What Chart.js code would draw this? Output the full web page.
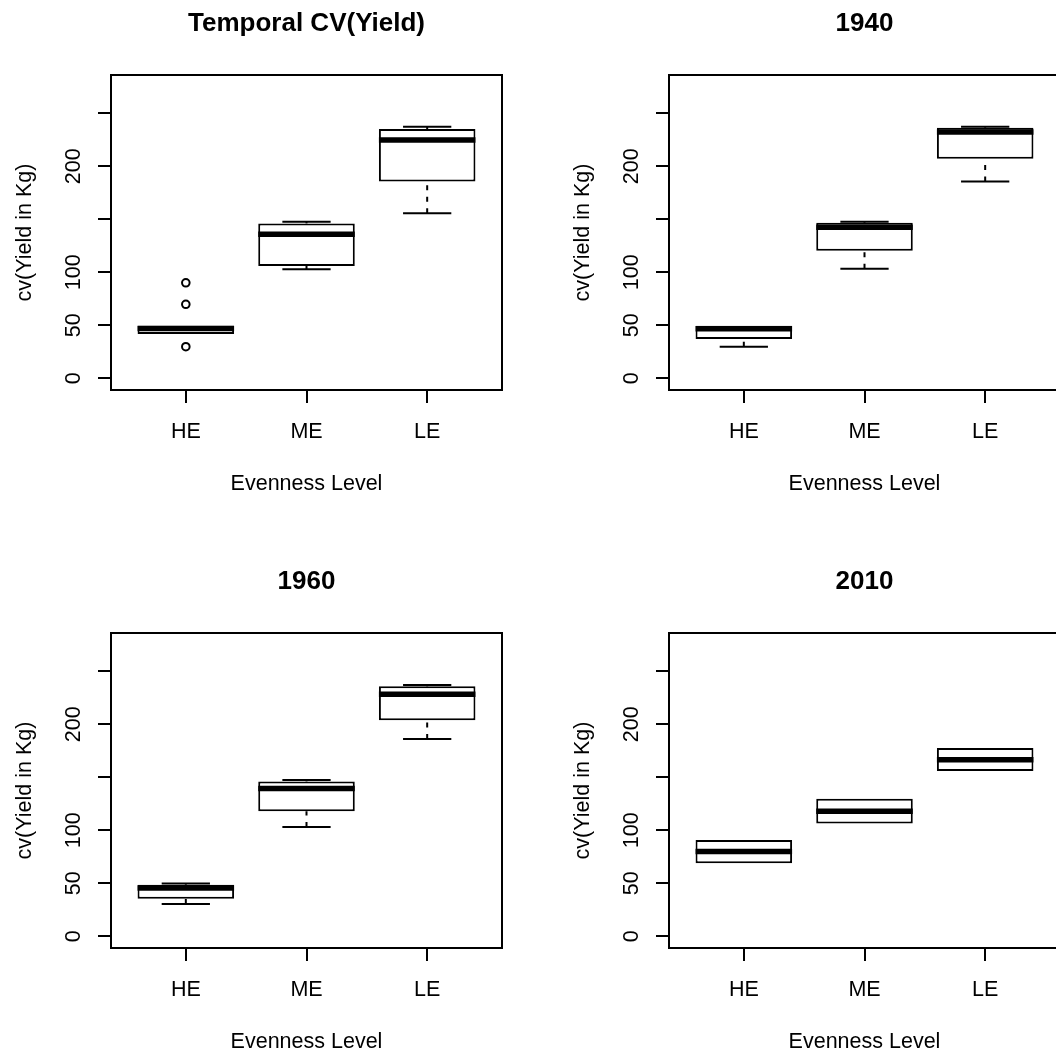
<!DOCTYPE html>
<html>
<head>
<meta charset="utf-8">
<script src="https://cdn.jsdelivr.net/npm/chart.js@4.4.1/dist/chart.umd.min.js"></script>
<style>
  html, body { margin: 0; padding: 0; background: #fff; }
  #wrap { position: relative; width: 1056px; height: 1056px; overflow: hidden; background: #fff; }
  #wrap canvas { position: absolute; }
</style>
</head>
<body>
<div id="wrap">
  <canvas id="c0" width="558" height="558" style="left:0px;top:0px"></canvas>
  <canvas id="c1" width="558" height="558" style="left:558px;top:0px"></canvas>
  <canvas id="c2" width="558" height="558" style="left:0px;top:558px"></canvas>
  <canvas id="c3" width="558" height="558" style="left:558px;top:558px"></canvas>
</div>
<script>
// ---------- data ----------
const categories = ['HE', 'ME', 'LE'];
const yTicks = [0, 50, 100, 150, 200, 250];
const yTickLabels = ['0', '50', '100', '', '200', ''];
const xLabel = 'Evenness Level';
const yLabel = 'cv(Yield in Kg)';
const panelTitles = ['Temporal CV(Yield)', '1940', '1960', '2010'];

// Temporal CV(Yield)
const tcvLow = [41.8, 102.8, 155.6];
const tcvQ1 = [41.8, 105.9, 185.7];
const tcvMed = [47.0, 135.8, 224.7];
const tcvQ3 = [49.6, 146.1, 235.1];
const tcvHigh = [49.6, 147.7, 237.2];
const tcvOutliers = [[29.8, 69.8, 90.1], [], []];

// 1940
const y1940Low = [29.8, 103.3, 185.7];
const y1940Q1 = [37.1, 120.3, 207.1];
const y1940Med = [46.7, 142.4, 232.2];
const y1940Q3 = [49.6, 146.7, 236.3];
const y1940High = [49.6, 147.7, 237.2];
const y1940Outliers = [[], [], []];

// 1960
const y1960Low = [30.5, 103.1, 186.1];
const y1960Q1 = [35.5, 118.0, 203.7];
const y1960Med = [45.6, 139.4, 228.2];
const y1960Q3 = [48.7, 146.1, 235.7];
const y1960High = [49.7, 147.5, 237.0];
const y1960Outliers = [[], [], []];

// 2010
const y2010Low = [68.9, 106.3, 155.9];
const y2010Q1 = [68.9, 106.3, 155.9];
const y2010Med = [80.1, 117.9, 166.5];
const y2010Q3 = [90.9, 129.8, 177.6];
const y2010High = [90.9, 129.8, 177.6];
const y2010Outliers = [[], [], []];

// ---------- rendering ----------
Chart.defaults.font.family = '"Liberation Sans", Arial, Helvetica, sans-serif';
Chart.defaults.color = '#000';

const boxPartsPlugin = {
  id: 'boxParts',
  afterDatasetsDraw(chart, args, opts) {
    const ctx = chart.ctx;
    const xs = chart.scales.x, ys = chart.scales.y;
    const boxHalf = opts.boxHalfWidth, capHalf = opts.capHalfWidth;
    ctx.save();
    ctx.strokeStyle = '#000';
    ctx.lineCap = 'butt';
    for (let i = 0; i < categories.length; i++) {
      const xc = xs.getPixelForValue(i + 1);
      const xl = xs.getPixelForValue(i + 1 - boxHalf);
      const xr = xs.getPixelForValue(i + 1 + boxHalf);
      const cl = xs.getPixelForValue(i + 1 - capHalf);
      const cr = xs.getPixelForValue(i + 1 + capHalf);
      const pLo = ys.getPixelForValue(opts.low[i]);
      const pQ1 = ys.getPixelForValue(opts.q1[i]);
      const pQ3 = ys.getPixelForValue(opts.q3[i]);
      const pHi = ys.getPixelForValue(opts.high[i]);
      const pMed = ys.getPixelForValue(opts.med[i]);
      ctx.lineWidth = 2;
      // lower whisker + staple
      if (opts.low[i] < opts.q1[i]) {
        ctx.setLineDash([5, 6.5]);
        ctx.beginPath(); ctx.moveTo(xc, pLo); ctx.lineTo(xc, pQ1); ctx.stroke();
        ctx.setLineDash([]);
        ctx.beginPath(); ctx.moveTo(cl, pLo); ctx.lineTo(cr, pLo); ctx.stroke();
      }
      // upper whisker + staple
      if (opts.high[i] > opts.q3[i]) {
        ctx.setLineDash([5, 6.5]);
        ctx.beginPath(); ctx.moveTo(xc, pHi); ctx.lineTo(xc, pQ3); ctx.stroke();
        ctx.setLineDash([]);
        ctx.beginPath(); ctx.moveTo(cl, pHi); ctx.lineTo(cr, pHi); ctx.stroke();
      }
      // median
      ctx.lineWidth = 5.5;
      ctx.beginPath(); ctx.moveTo(xl, pMed); ctx.lineTo(xr, pMed); ctx.stroke();
    }
    ctx.restore();
  },
  afterDraw(chart) {
    const a = chart.chartArea, ctx = chart.ctx;
    ctx.save();
    ctx.strokeStyle = '#000';
    ctx.lineWidth = 2;
    ctx.strokeRect(a.left, a.top, a.right - a.left, a.bottom - a.top);
    ctx.restore();
  }
};

function makePanel(canvasId, title, low, q1, med, q3, high, outliers) {
  const boxData = categories.map((c, i) => ({ x: i + 1, y: [q1[i], q3[i]] }));
  const outlierData = [];
  outliers.forEach((list, i) => list.forEach(v => outlierData.push({ x: i + 1, y: v })));
  const tickFont = { size: 21.5 };
  return new Chart(document.getElementById(canvasId), {
    type: 'bar',
    data: {
      datasets: [
        {
          type: 'bar',
          label: 'box',
          data: boxData,
          backgroundColor: '#ffffff',
          borderColor: '#000000',
          borderWidth: 2,
          borderSkipped: false,
          categoryPercentage: 0.8,
          barPercentage: 1.0
        },
        {
          type: 'scatter',
          label: 'outliers',
          data: outlierData,
          pointStyle: 'circle',
          pointRadius: 3.8,
          pointBorderWidth: 2,
          pointBorderColor: '#000000',
          pointBackgroundColor: 'rgba(255,255,255,0)'
        }
      ]
    },
    options: {
      responsive: false,
      animation: false,
      devicePixelRatio: 1,
      layout: { padding: { left: 0, top: 0, right: 56, bottom: 0 } },
      plugins: {
        legend: { display: false },
        tooltip: { enabled: false },
        title: {
          display: true,
          text: title,
          fullSize: false,
          color: '#000',
          font: { size: 26, weight: 'bold' },
          padding: { top: 8.7, bottom: 35.1 }
        },
        boxParts: { low, q1, med, q3, high, boxHalfWidth: 0.4, capHalfWidth: 0.2 }
      },
      scales: {
        x: {
          type: 'linear',
          min: 0.38,
          max: 3.62,
          offset: false,
          border: { display: false },
          grid: { display: true, offset: false, drawOnChartArea: false, drawTicks: true, tickLength: 13, color: '#000', lineWidth: 2 },
          afterBuildTicks: (scale) => { scale.ticks = categories.map((c, i) => ({ value: i + 1 })); },
          afterFit: (scale) => { scale.height = 168; },
          ticks: {
            autoSkip: false,
            maxRotation: 0,
            minRotation: 0,
            padding: 16.6,
            font: tickFont,
            color: '#000',
            callback: (v) => categories[Math.round(v) - 1]
          },
          title: { display: true, text: xLabel, font: { size: 21.5 }, color: '#000', padding: { top: 0, bottom: 60.6 } }
        },
        y: {
          type: 'linear',
          min: -11,
          max: 286,
          border: { display: false },
          grid: { display: true, drawOnChartArea: false, drawTicks: true, tickLength: 13, color: '#000', lineWidth: 2 },
          afterBuildTicks: (scale) => { scale.ticks = yTicks.map(v => ({ value: v })); },
          afterFit: (scale) => { scale.width = 111; },
          ticks: {
            autoSkip: false,
            minRotation: 90,
            maxRotation: 90,
            crossAlign: 'center',
            padding: 6,
            font: tickFont,
            color: '#000',
            callback: (v) => { const k = yTicks.indexOf(v); return k >= 0 ? yTickLabels[k] : ''; }
          },
          title: { display: true, text: yLabel, font: { size: 21.5 }, color: '#000', padding: { top: 12, bottom: 0 } }
        }
      }
    },
    plugins: [boxPartsPlugin]
  });
}

makePanel('c0', panelTitles[0], tcvLow, tcvQ1, tcvMed, tcvQ3, tcvHigh, tcvOutliers);
makePanel('c1', panelTitles[1], y1940Low, y1940Q1, y1940Med, y1940Q3, y1940High, y1940Outliers);
makePanel('c2', panelTitles[2], y1960Low, y1960Q1, y1960Med, y1960Q3, y1960High, y1960Outliers);
makePanel('c3', panelTitles[3], y2010Low, y2010Q1, y2010Med, y2010Q3, y2010High, y2010Outliers);
</script>
</body>
</html>
